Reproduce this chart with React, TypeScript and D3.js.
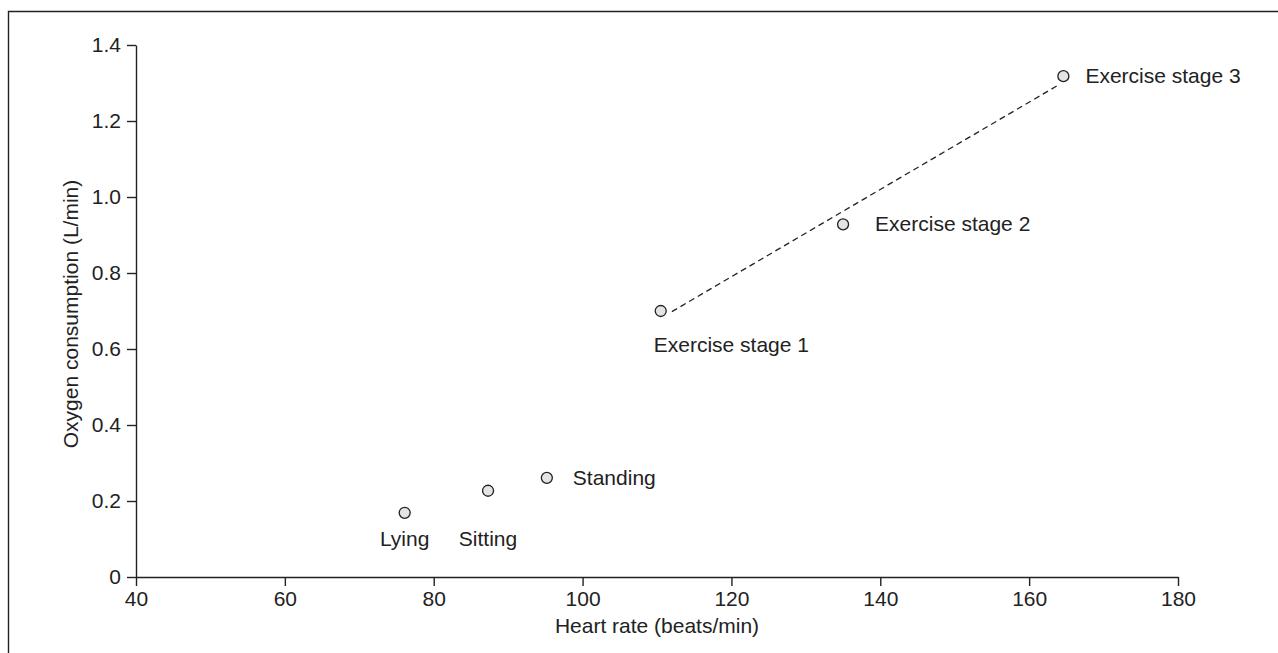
import * as d3 from 'd3';
import { useEffect, useRef } from 'react';

// readings
const labels = ['Lying', 'Sitting', 'Standing', 'Exercise stage 1', 'Exercise stage 2', 'Exercise stage 3'];
const heartRate = [76.1, 87.3, 95.2, 110.5, 135.0, 164.6];
const oxygen = [0.169, 0.227, 0.261, 0.70, 0.928, 1.318];
// where each label sits relative to its point
const labelPlace = ['below', 'below', 'right', 'belowStart', 'right', 'right'];

const xTicks = [40, 60, 80, 100, 120, 140, 160, 180];
const yTicks = [0, 0.2, 0.4, 0.6, 0.8, 1.0, 1.2, 1.4];
const fitRange = [112, 164]; // dashed fit drawn over exercise stages

const W = 1278;
const H = 653;
const FONT = '"Liberation Sans", Arial, Helvetica, sans-serif';
const FS = '21px';
const INK = '#222';

const App = () => {
    const ref = useRef<SVGSVGElement | null>(null);

    useEffect(() => {
        const svg = d3.select(ref.current!);
        svg.selectAll('*').remove();

        const xScale = d3.scaleLinear().domain([40, 180]).range([136, 1178]);
        const yScale = d3.scaleLinear().domain([0, 1.4]).range([577, 45]);

        // outer frame (runs off the right and bottom of the page)
        svg.append('path')
            .attr('d', `M8.5,${H + 5} L8.5,11.5 L${W + 5},11.5`)
            .attr('fill', 'none')
            .attr('stroke', INK)
            .attr('stroke-width', 1.4);

        const xAxis = d3.axisBottom(xScale).tickValues(xTicks).tickSize(9).tickPadding(5).tickSizeOuter(0);
        const yAxis = d3.axisLeft(yScale).tickValues(yTicks).tickSize(9).tickPadding(6).tickSizeOuter(0)
            .tickFormat(d => (d === 0 ? '0' : d3.format('.1f')(d as number)));

        const gx = svg.append('g').attr('transform', 'translate(0,577)').call(xAxis);
        const gy = svg.append('g').attr('transform', 'translate(136,0)').call(yAxis);

        [gx, gy].forEach(g => {
            g.select('.domain').attr('stroke', INK).attr('stroke-width', 1.4);
            g.selectAll('.tick line').attr('stroke', INK).attr('stroke-width', 1.4);
            g.selectAll('.tick text')
                .attr('fill', INK)
                .style('font-family', FONT)
                .style('font-size', FS);
        });

        svg.append('text')
            .attr('x', 657)
            .attr('y', 633)
            .attr('text-anchor', 'middle')
            .attr('fill', INK)
            .style('font-family', FONT)
            .style('font-size', FS)
            .text('Heart rate (beats/min)');

        svg.append('text')
            .attr('transform', 'translate(78,314) rotate(-90)')
            .attr('text-anchor', 'middle')
            .attr('fill', INK)
            .style('font-family', FONT)
            .style('font-size', FS)
            .text('Oxygen consumption (L/min)');

        // least squares line through the exercise stages
        const ex = heartRate.slice(3);
        const ey = oxygen.slice(3);
        const mx = d3.mean(ex)!;
        const my = d3.mean(ey)!;
        const slope = d3.sum(ex, (v, i) => (v - mx) * (ey[i] - my)) / d3.sum(ex, v => (v - mx) ** 2);
        const icpt = my - slope * mx;

        const line = d3.line<number>()
            .x(d => xScale(d))
            .y(d => yScale(icpt + slope * d));

        svg.append('path')
            .datum(fitRange)
            .attr('d', line)
            .attr('fill', 'none')
            .attr('stroke', INK)
            .attr('stroke-width', 1.3)
            .attr('stroke-dasharray', '6,4');

        svg.selectAll('.dot')
            .data(heartRate)
            .enter()
            .append('circle')
            .attr('cx', d => xScale(d))
            .attr('cy', (d, i) => yScale(oxygen[i]))
            .attr('r', 5.5)
            .attr('fill', '#e4e4e4')
            .attr('stroke', INK)
            .attr('stroke-width', 1.3);

        svg.selectAll('.lbl')
            .data(labels)
            .enter()
            .append('text')
            .attr('x', (d, i) => {
                const cx = xScale(heartRate[i]);
                if (labelPlace[i] === 'right') return cx + (i === 4 ? 32 : i === 2 ? 26 : 22);
                if (labelPlace[i] === 'belowStart') return cx - 7;
                return cx;
            })
            .attr('y', (d, i) => {
                const cy = yScale(oxygen[i]);
                if (labelPlace[i] === 'right') return cy + 7;
                if (labelPlace[i] === 'belowStart') return cy + 41;
                return i === 0 ? cy + 33 : cy + 55;
            })
            .attr('text-anchor', (d, i) => (labelPlace[i] === 'below' ? 'middle' : 'start'))
            .attr('fill', INK)
            .style('font-family', FONT)
            .style('font-size', FS)
            .text(d => d);
    }, []);

    return (
        <svg ref={ref} width={W} height={H}
            style={{ position: 'absolute', left: 0, top: 0, background: '#fff' }} />
    );
};

export default App;
